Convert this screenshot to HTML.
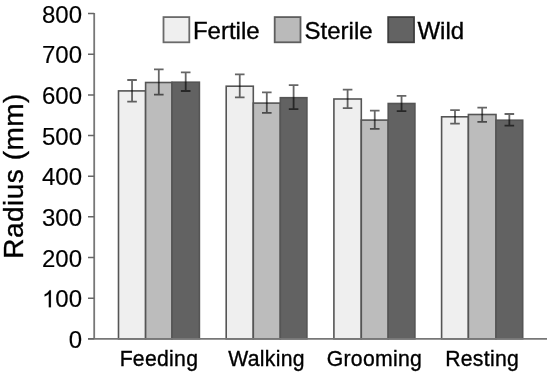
<!DOCTYPE html>
<html><head><meta charset="utf-8"><style>
html,body{margin:0;padding:0;background:#fff;}
body{width:550px;height:374px;overflow:hidden;}
svg{display:block;filter:grayscale(1) blur(0.5px);}
text{font-family:"Liberation Sans",sans-serif;fill:#000;stroke:#000;stroke-width:0.35px;}
text.d{stroke-width:0.15px;}
</style></head><body>
<svg width="550" height="374" viewBox="0 0 550 374">
<rect x="0" y="0" width="550" height="374" fill="#fff"/>

<rect x="118.50" y="90.90" width="27.10" height="247.90" fill="#efefef" stroke="#555" stroke-width="1.6"/>
<rect x="145.60" y="82.50" width="26.40" height="256.30" fill="#bcbcbc" stroke="#555" stroke-width="1.6"/>
<rect x="172.00" y="82.20" width="27.40" height="256.60" fill="#626262" stroke="#555" stroke-width="1.6"/>
<rect x="226.20" y="86.20" width="27.10" height="252.60" fill="#efefef" stroke="#555" stroke-width="1.6"/>
<rect x="253.30" y="103.10" width="27.00" height="235.70" fill="#bcbcbc" stroke="#555" stroke-width="1.6"/>
<rect x="280.30" y="97.70" width="26.60" height="241.10" fill="#626262" stroke="#555" stroke-width="1.6"/>
<rect x="333.90" y="99.00" width="27.40" height="239.80" fill="#efefef" stroke="#555" stroke-width="1.6"/>
<rect x="361.30" y="120.10" width="26.90" height="218.70" fill="#bcbcbc" stroke="#555" stroke-width="1.6"/>
<rect x="388.20" y="103.50" width="26.70" height="235.30" fill="#626262" stroke="#555" stroke-width="1.6"/>
<rect x="441.60" y="116.80" width="26.80" height="222.00" fill="#efefef" stroke="#555" stroke-width="1.6"/>
<rect x="468.40" y="114.50" width="27.60" height="224.30" fill="#bcbcbc" stroke="#555" stroke-width="1.6"/>
<rect x="496.00" y="120.20" width="26.70" height="218.60" fill="#626262" stroke="#555" stroke-width="1.6"/>
<path d="M132.05 80.00V101.70M127.25 80.00H136.85M127.25 101.70H136.85" stroke="#000" stroke-opacity="0.6" stroke-width="1.8" fill="none"/>
<path d="M158.80 69.30V94.70M154.00 69.30H163.60M154.00 94.70H163.60" stroke="#000" stroke-opacity="0.6" stroke-width="1.8" fill="none"/>
<path d="M185.70 72.30V91.00M180.90 72.30H190.50M180.90 91.00H190.50" stroke="#000" stroke-opacity="0.6" stroke-width="1.8" fill="none"/>
<path d="M239.75 74.40V97.40M234.95 74.40H244.55M234.95 97.40H244.55" stroke="#000" stroke-opacity="0.6" stroke-width="1.8" fill="none"/>
<path d="M266.80 92.30V112.90M262.00 92.30H271.60M262.00 112.90H271.60" stroke="#000" stroke-opacity="0.6" stroke-width="1.8" fill="none"/>
<path d="M293.60 85.20V109.20M288.80 85.20H298.40M288.80 109.20H298.40" stroke="#000" stroke-opacity="0.6" stroke-width="1.8" fill="none"/>
<path d="M347.60 89.60V108.10M342.80 89.60H352.40M342.80 108.10H352.40" stroke="#000" stroke-opacity="0.6" stroke-width="1.8" fill="none"/>
<path d="M374.75 110.60V128.80M369.95 110.60H379.55M369.95 128.80H379.55" stroke="#000" stroke-opacity="0.6" stroke-width="1.8" fill="none"/>
<path d="M401.55 95.90V111.10M396.75 95.90H406.35M396.75 111.10H406.35" stroke="#000" stroke-opacity="0.6" stroke-width="1.8" fill="none"/>
<path d="M455.00 110.20V123.60M450.20 110.20H459.80M450.20 123.60H459.80" stroke="#000" stroke-opacity="0.6" stroke-width="1.8" fill="none"/>
<path d="M482.20 107.60V121.80M477.40 107.60H487.00M477.40 121.80H487.00" stroke="#000" stroke-opacity="0.6" stroke-width="1.8" fill="none"/>
<path d="M509.35 114.00V125.60M504.55 114.00H514.15M504.55 125.60H514.15" stroke="#000" stroke-opacity="0.6" stroke-width="1.8" fill="none"/>
<path d="M94.2 12.9V338.8M88 338.8H547" stroke="#777" stroke-width="1.8" fill="none"/>
<path d="M88 338.80H94.2M88 298.15H94.2M88 257.50H94.2M88 216.85H94.2M88 176.20H94.2M88 135.55H94.2M88 94.90H94.2M88 54.25H94.2M88 13.60H94.2" stroke="#666" stroke-width="1.5" fill="none"/>
<text x="82" y="348.00" font-size="24" text-anchor="end" class="d">0</text>
<path transform="translate(41.97,307.35) scale(0.011719,-0.011719)" d="M763 0L583 0L583 1147Q470 1040 223 930L223 1104Q520 1240 646 1466L763 1466Z" fill="#000" stroke="#000" stroke-width="12.8"/>
<text x="82" y="307.35" font-size="24" text-anchor="end" class="d">00</text>
<text x="82" y="266.70" font-size="24" text-anchor="end" class="d">200</text>
<text x="82" y="226.05" font-size="24" text-anchor="end" class="d">300</text>
<text x="82" y="185.40" font-size="24" text-anchor="end" class="d">400</text>
<text x="82" y="144.75" font-size="24" text-anchor="end" class="d">500</text>
<text x="82" y="104.10" font-size="24" text-anchor="end" class="d">600</text>
<text x="82" y="63.45" font-size="24" text-anchor="end" class="d">700</text>
<text x="82" y="22.80" font-size="24" text-anchor="end" class="d">800</text>
<text transform="translate(158.95,366.2) scale(1,1.04)" font-size="21.2" letter-spacing="0.3" text-anchor="middle">Feeding</text>
<text transform="translate(266.55,366.2) scale(1,1.04)" font-size="21.2" letter-spacing="0.3" text-anchor="middle">Walking</text>
<text transform="translate(374.40,366.2) scale(1,1.04)" font-size="21.2" letter-spacing="0.3" text-anchor="middle">Grooming</text>
<text transform="translate(482.15,366.2) scale(1,1.04)" font-size="21.2" letter-spacing="0.3" text-anchor="middle">Resting</text>
<text transform="translate(23.4,258.8) rotate(-90)" font-size="28" letter-spacing="0.5">Radius (mm)</text>
<rect x="163.50" y="17.1" width="25.8" height="25.2" fill="#efefef" stroke="#6a6a6a" stroke-width="1.8"/>
<text transform="translate(192.90,38.8)" font-size="24">Fertile</text>
<rect x="274.70" y="17.1" width="25.8" height="25.2" fill="#bababa" stroke="#5e5e5e" stroke-width="1.8"/>
<text transform="translate(304.60,38.8)" font-size="24">Sterile</text>
<rect x="388.20" y="17.1" width="25.8" height="25.2" fill="#636363" stroke="#3e3e3e" stroke-width="1.8"/>
<text transform="translate(417.40,38.8)" font-size="24">Wild</text>
</svg></body></html>
